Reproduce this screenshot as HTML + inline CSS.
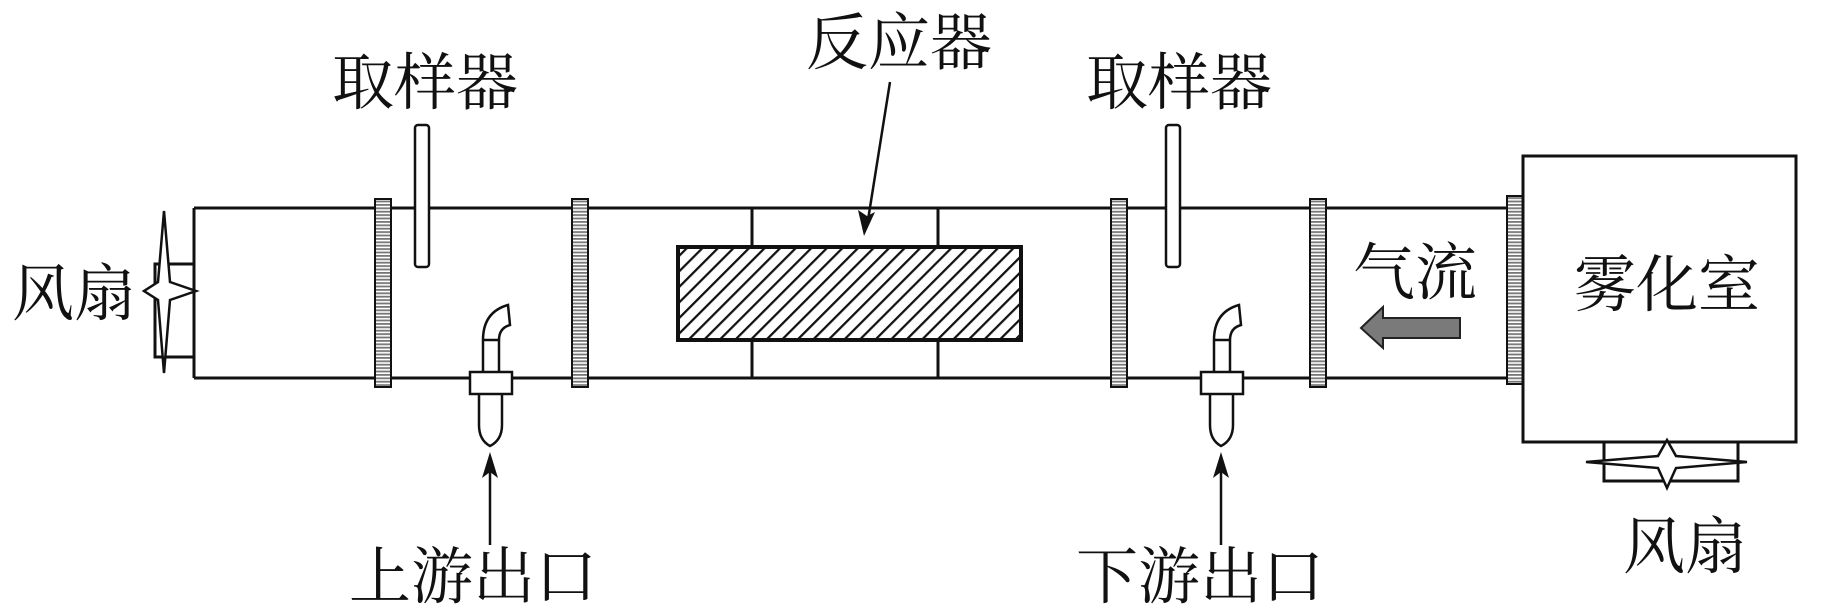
<!DOCTYPE html>
<html><head><meta charset="utf-8"><style>
html,body{margin:0;padding:0;background:#fff;}
svg{display:block;}
text{font-family:"Liberation Serif","Noto Serif CJK SC","Noto Sans CJK SC",serif;fill:#111;}
</style></head><body>
<svg width="1835" height="616" viewBox="0 0 1835 616" xmlns="http://www.w3.org/2000/svg">
<defs>
<pattern id="hatch" patternUnits="userSpaceOnUse" width="11" height="11" patternTransform="rotate(45)">
<rect width="11" height="11" fill="#fff"/>
<line x1="0" y1="0" x2="0" y2="11" stroke="#111" stroke-width="4.5"/>
</pattern>
<pattern id="fl" patternUnits="userSpaceOnUse" width="4" height="3.4">
<rect width="4" height="3.4" fill="#fff"/>
<rect width="4" height="1.8" fill="#777"/>
</pattern>
</defs>
<g stroke="#111" stroke-width="3" fill="none">
<line x1="194" y1="208" x2="1510" y2="208"/>
<line x1="194" y1="378" x2="1510" y2="378"/>
<line x1="194" y1="208" x2="194" y2="378"/>
<line x1="752" y1="208" x2="752" y2="378"/>
<line x1="938" y1="208" x2="938" y2="378"/>
<rect x="678" y="247" width="343" height="93" fill="url(#hatch)" stroke-width="4"/>
<rect x="155" y="264" width="39" height="93" fill="#fff"/>
</g>
<path d="M164 211 L170 282 L196 291 L170 300 L164 373 L158 300 L144 291 L158 282 Z" fill="#fff" stroke="#111" stroke-width="2.5"/>
<g stroke="#111" stroke-width="2" fill="url(#fl)">
<rect x="375" y="199" width="16" height="188"/>
<rect x="572" y="199" width="16" height="188"/>
<rect x="1111" y="199" width="16" height="188"/>
<rect x="1310" y="199" width="16" height="188"/>
<rect x="1507" y="196" width="17" height="188"/>
</g>
<rect x="1523" y="156" width="273" height="286" fill="#fff" stroke="#111" stroke-width="3"/>
<rect x="1604" y="442" width="134" height="39" fill="#fff" stroke="#111" stroke-width="3"/>
<path d="M1667 440 L1676 456 L1747 462 L1676 468 L1667 488 L1658 468 L1586 462 L1658 456 Z" fill="#fff" stroke="#111" stroke-width="2.5"/>
<g stroke="#111" stroke-width="2.5" fill="#fff">
<rect x="415" y="125" width="14" height="142" rx="3"/>
<rect x="1166" y="125" width="14" height="142" rx="3"/>
</g>
<g id="o1" stroke="#111" stroke-width="2.5" fill="#fff">
<path d="M483 378 L483 340 Q483 312 508 305 L510 325 Q499 328 499 340 L499 378"/>
<line x1="483" y1="340" x2="499" y2="340"/>
<path d="M479 394 L479 425 Q479 440 490 446 Q502 440 502 425 L502 394"/>
<rect x="470" y="372" width="42" height="22"/>
</g>
<use href="#o1" x="731"/>
<g stroke="#111" stroke-width="2.5">
<line x1="490" y1="545" x2="490" y2="462"/>
<line x1="1221" y1="545" x2="1221" y2="462"/>
<line x1="890" y1="82" x2="868" y2="220"/>
</g>
<g fill="#111">
<path d="M490 452 L482 478 L490 472 L498 478 Z"/>
<path d="M1221 452 L1213 478 L1221 472 L1229 478 Z"/>
<path d="M864 236 L858 210 L867 216 L875 212 Z"/>
</g>
<path d="M1361 328 L1383 307 L1383 318 L1460 318 L1460 338 L1383 338 L1383 348 Z" fill="#7a7a7a" stroke="#222" stroke-width="2"/>
<g font-size="62">
<text x="12" y="315">风扇</text>
<text x="332" y="104">取样器</text>
<text x="1086" y="104">取样器</text>
<text x="806" y="64">反应器</text>
<text x="1353" y="294">气流</text>
<text x="1574" y="306">雾化室</text>
<text x="349" y="598">上游出口</text>
<text x="1076" y="598">下游出口</text>
<text x="1623" y="568">风扇</text>
</g>
</svg>
</body></html>
